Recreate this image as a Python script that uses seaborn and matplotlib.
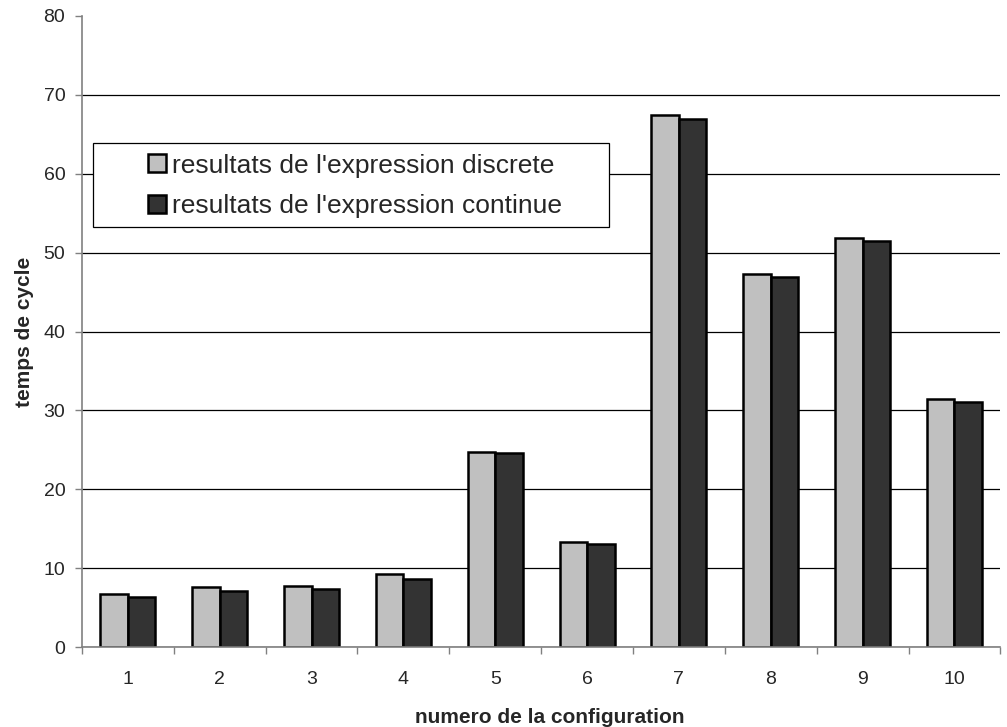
import pandas as pd
import seaborn as sns
import numpy as np
import matplotlib.pyplot as plt
from matplotlib.patches import Rectangle
from matplotlib.ticker import FixedLocator

configs = ["1", "2", "3", "4", "5", "6", "7", "8", "9", "10"]
discrete = [6.7, 7.6, 7.8, 9.25, 24.75, 13.35, 67.4, 47.3, 51.8, 31.5]
continuous = [6.4, 7.1, 7.35, 8.6, 24.55, 13.1, 67.0, 46.9, 51.5, 31.1]
series = ["resultats de l'expression discrete", "resultats de l'expression continue"]

df = pd.DataFrame({
    "config": configs * 2,
    "value": discrete + continuous,
    "serie": [series[0]] * len(configs) + [series[1]] * len(configs),
})

sns.set_style("white")
plt.rcParams['font.family'] = ['Liberation Sans', 'DejaVu Sans']

fig = plt.figure(figsize=(10.07, 7.27), dpi=100)
ax = fig.add_axes([0.0814, 0.110, 0.912, 0.868])

sns.barplot(data=df, x="config", y="value", hue="serie", ax=ax,
            palette=["#c0c0c0", "#333333"], width=0.6,
            edgecolor="black", linewidth=1.8, saturation=1)

ax.set_ylim(0, 80)
ax.set_xlim(-0.5, len(configs) - 0.5)
ax.set_yticks(range(0, 81, 10))
ax.yaxis.grid(True, color="black", linewidth=0.9)
ax.get_ygridlines()[-1].set_visible(False)  # no line at 80
ax.set_axisbelow(True)

# category ticks sit on the group boundaries
ax.tick_params(axis="x", which="major", length=0, labelsize=14, pad=17)
ax.xaxis.set_minor_locator(FixedLocator(np.arange(-0.5, len(configs), 1)))
ax.tick_params(axis="x", which="minor", length=5, color="#808080", width=1, direction="out", bottom=True)
ax.tick_params(axis="y", length=5, color="#808080", width=1, labelsize=14, pad=7, left=True, direction="out")

for s in ["top", "right"]:
    ax.spines[s].set_visible(False)
for s in ["left", "bottom"]:
    ax.spines[s].set_color("#808080")
    ax.spines[s].set_linewidth(1.2)

ax.set_xlabel("numero de la configuration", fontsize=15, fontweight="bold")
ax.set_ylabel("temps de cycle", fontsize=15, fontweight="bold")
ax.xaxis.set_label_coords(0.509, -0.097)
ax.yaxis.set_label_coords(-0.052, 0.5)

# legend box drawn separately, entries indented like the original
ax.add_patch(Rectangle((0.0117, 0.6656), 0.562, 0.1336, transform=ax.transAxes,
                       facecolor="white", edgecolor="black", linewidth=0.9, zorder=4))
leg = ax.legend(loc="center left", bbox_to_anchor=(0.0722, 0.731), frameon=False,
                fontsize=19, handlelength=0.68, handleheight=0.68,
                handletextpad=0.22, borderpad=0, labelspacing=0.62, borderaxespad=0)
leg.set_zorder(5)

plt.savefig("out.png", dpi=100)
